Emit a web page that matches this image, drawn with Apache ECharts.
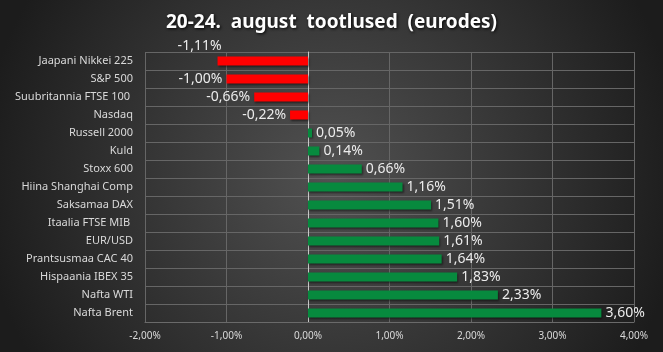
<!DOCTYPE html>
<html>
<head>
<meta charset="utf-8">
<script src="https://cdn.jsdelivr.net/npm/echarts@6/dist/echarts.min.js"></script>
<style>
  html, body { margin: 0; padding: 0; background: #2a2a2a; }
  #chart { width: 663px; height: 352px; }
</style>
</head>
<body>
<div id="chart"></div>
<script>
// kategooriad ülevalt alla
const categories = [
  'Jaapani Nikkei 225', 'S&P 500', 'Suubritannia FTSE 100 ', 'Nasdaq', 'Russell 2000',
  'Kuld', 'Stoxx 600', 'Hiina Shanghai Comp', 'Saksamaa DAX', 'Itaalia FTSE MIB ',
  'EUR/USD', 'Prantsusmaa CAC 40', 'Hispaania IBEX 35', 'Nafta WTI', 'Nafta Brent'
];
const values = [-1.11, -1.00, -0.66, -0.22, 0.05, 0.14, 0.66, 1.16, 1.51, 1.60, 1.61, 1.64, 1.83, 2.33, 3.60];
const axisMin = -2;
const axisMax = 4;

const fmt = v => v.toFixed(2).replace('.', ',') + '%';

const chart = echarts.init(document.getElementById('chart'));

const seriesData = values.map((v, i) => {
  const item = {
    value: v,
    itemStyle: {
      color: v < 0 ? '#ff0000' : '#078a3e',
      shadowColor: 'rgba(0,0,0,0.5)',
      shadowBlur: 2,
      shadowOffsetX: 1,
      shadowOffsetY: 1
    },
    label: { position: v < 0 ? 'left' : 'right' }
  };
  if (i === 0) {
    item.label = { position: 'left', offset: [8, -15] }; // Excel nihutas selle sildi üles
  }
  return item;
});

const option = {
  backgroundColor: {
    type: 'radial', x: 0.5, y: 0.5, r: 1.0,
    colorStops: [
      { offset: 0, color: '#515151' },
      { offset: 1, color: '#1c1c1c' }
    ]
  },
  animation: false,
  title: {
    text: '20-24.  august  tootlused  (eurodes)',
    left: 'center',
    top: 8,
    textStyle: {
      color: '#ffffff',
      fontFamily: 'Noto Sans',
      fontSize: 19,
      fontWeight: 'bold',
      textShadowColor: 'rgba(0,0,0,0.9)',
      textShadowBlur: 3,
      textShadowOffsetX: 1,
      textShadowOffsetY: 1
    }
  },
  grid: { left: 145, right: 29, top: 52, bottom: 30, containLabel: false },
  xAxis: {
    type: 'value',
    min: axisMin,
    max: axisMax,
    interval: 1,
    axisLine: { show: true, lineStyle: { color: '#6a6a6a' } },
    axisTick: { show: false },
    axisLabel: {
      color: '#d9d9d9',
      fontFamily: 'Noto Sans',
      fontSize: 10,
      margin: 9,
      formatter: v => fmt(v)
    },
    splitLine: { show: true, lineStyle: { color: '#666666', width: 1 } }
  },
  yAxis: {
    type: 'category',
    data: categories,
    inverse: true,
    axisLine: { show: true, onZero: true, lineStyle: { color: '#c8c8c8' } },
    axisTick: { show: false },
    axisLabel: {
      color: '#d9d9d9',
      fontFamily: 'Noto Sans',
      fontSize: 11,
      margin: 12
    },
    splitLine: { show: true, lineStyle: { color: '#666666', width: 1 } }
  },
  series: [
    {
      type: 'bar',
      data: seriesData,
      barWidth: 9,
      label: {
        show: true,
        color: '#ececec',
        fontFamily: 'Noto Sans',
        fontSize: 14,
        distance: 4,
        formatter: p => fmt(p.value)
      }
    }
  ]
};

chart.setOption(option);
</script>
</body>
</html>
